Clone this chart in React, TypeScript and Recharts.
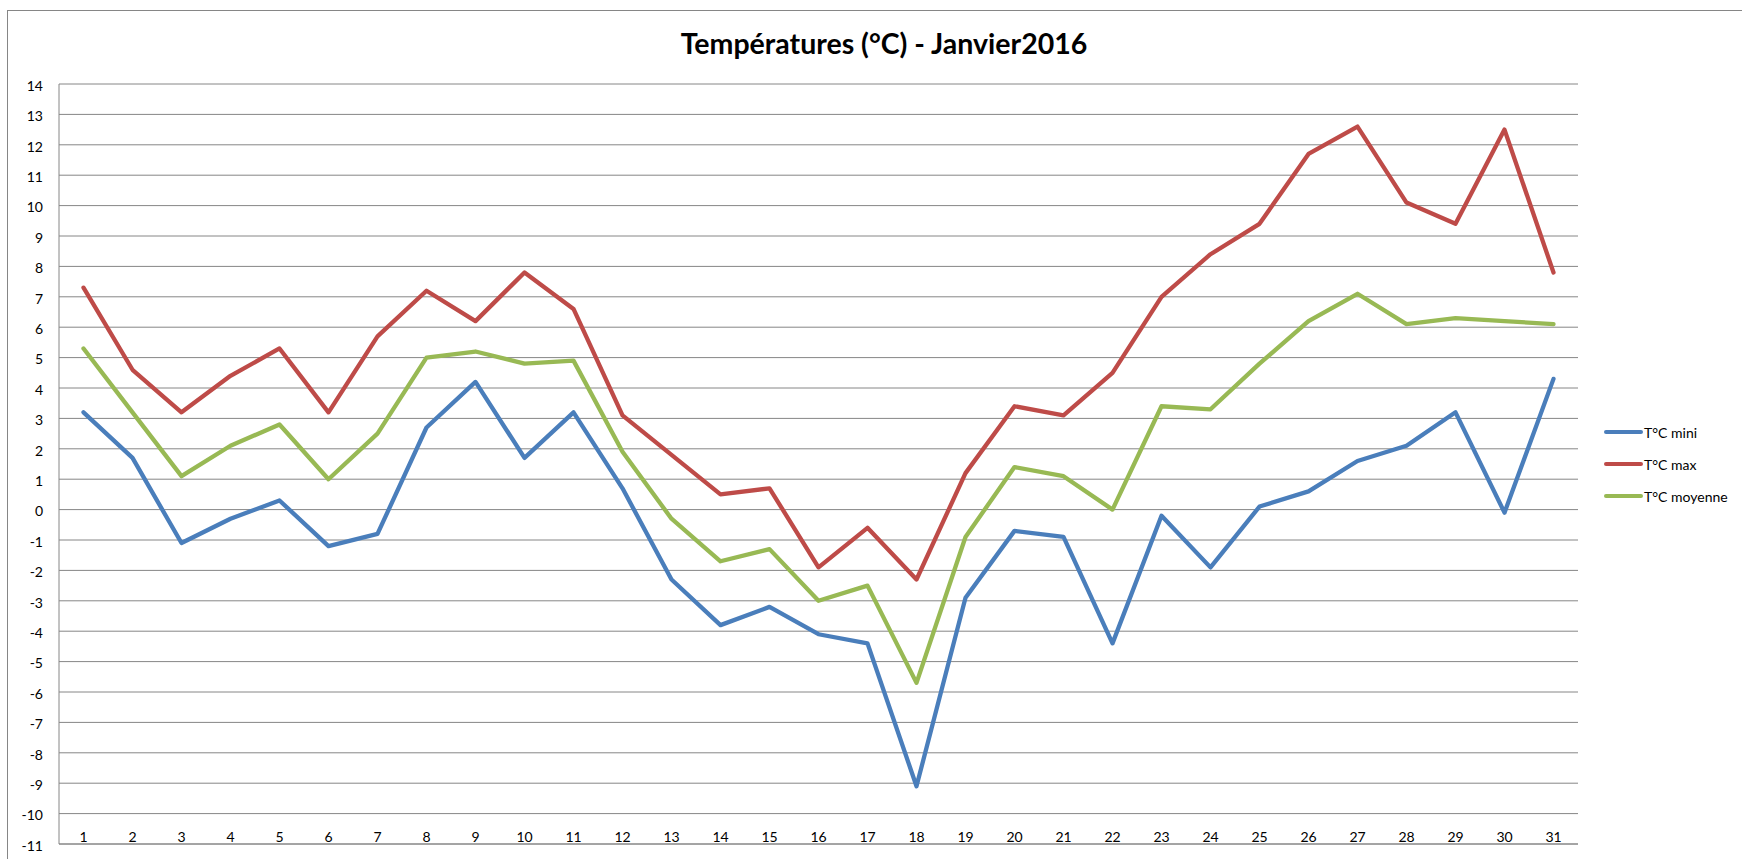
import React from 'react';
import { LineChart, Line, XAxis, YAxis, CartesianGrid, Legend } from 'recharts';

const days = [
  1, 2, 3, 4, 5, 6, 7, 8, 9, 10, 11, 12, 13, 14, 15, 16,
  17, 18, 19, 20, 21, 22, 23, 24, 25, 26, 27, 28, 29, 30, 31,
];

const tMini = [
  3.2, 1.7, -1.1, -0.3, 0.3, -1.2, -0.8, 2.7, 4.2, 1.7, 3.2, 0.7, -2.3, -3.8, -3.2, -4.1,
  -4.4, -9.1, -2.9, -0.7, -0.9, -4.4, -0.2, -1.9, 0.1, 0.6, 1.6, 2.1, 3.2, -0.1, 4.3,
];

const tMax = [
  7.3, 4.6, 3.2, 4.4, 5.3, 3.2, 5.7, 7.2, 6.2, 7.8, 6.6, 3.1, 1.8, 0.5, 0.7, -1.9,
  -0.6, -2.3, 1.2, 3.4, 3.1, 4.5, 7.0, 8.4, 9.4, 11.7, 12.6, 10.1, 9.4, 12.5, 7.8,
];

const tMoyenne = [
  5.3, 3.2, 1.1, 2.1, 2.8, 1.0, 2.5, 5.0, 5.2, 4.8, 4.9, 1.9, -0.3, -1.7, -1.3, -3.0,
  -2.5, -5.7, -0.9, 1.4, 1.1, 0.0, 3.4, 3.3, 4.8, 6.2, 7.1, 6.1, 6.3, 6.2, 6.1,
];

const yTicks = [14, 13, 12, 11, 10, 9, 8, 7, 6, 5, 4, 3, 2, 1, 0, -1, -2, -3, -4, -5, -6, -7, -8, -9, -10, -11];

const series = [
  { key: 'mini', name: 'T°C mini', color: '#4A7EBB' },
  { key: 'max', name: 'T°C max', color: '#BE4B48' },
  { key: 'moyenne', name: 'T°C moyenne', color: '#98B954' },
];

const data = days.map((d, i) => ({
  day: String(d),
  mini: tMini[i],
  max: tMax[i],
  moyenne: tMoyenne[i],
}));

const font = 'Lato, "Noto Sans", sans-serif';
const gridColor = '#868686';

const XTick = (props: any) => {
  const { x, y, payload } = props;
  return (
    <text x={x} y={y - 2} textAnchor="middle" fontSize={14} fontFamily={font} fill="#000">
      {payload.value}
    </text>
  );
};

const YTick = (props: any) => {
  const { x, y, payload } = props;
  return (
    <text x={x} y={y + 6.7} textAnchor="end" fontSize={14} fontFamily={font} fill="#000">
      {payload.value}
    </text>
  );
};

// keep the legend in series order (recharts sorts it by name otherwise)
const LegendBox = (props: any) => {
  const items = props.payload || [];
  const ordered = series
    .map((s) => items.find((it: any) => it.dataKey === s.key || it.value === s.name))
    .filter(Boolean);
  return (
    <div style={{ fontFamily: font, fontSize: 14, color: '#000' }}>
      {ordered.map((it: any) => (
        <div key={it.value} style={{ height: 32, display: 'flex', alignItems: 'center' }}>
          <svg width={40} height={6} style={{ display: 'block' }}>
            <line x1={2} y1={3} x2={37} y2={3} stroke={it.color} strokeWidth={4} strokeLinecap="round" />
          </svg>
          <span style={{ whiteSpace: 'nowrap' }}>{it.value}</span>
        </div>
      ))}
    </div>
  );
};

export default function App() {
  return (
    <div style={{ position: 'relative', width: 1742, height: 859, overflow: 'hidden', background: '#fff' }}>
      <style>{'body{margin:0;overflow:hidden}'}</style>
      <div
        style={{
          position: 'absolute',
          left: 7,
          top: 10,
          width: 1800,
          height: 900,
          borderLeft: `1px solid ${gridColor}`,
          borderTop: `1px solid ${gridColor}`,
        }}
      />
      <div
        style={{
          position: 'absolute',
          left: 384,
          top: 28,
          width: 1000,
          textAlign: 'center',
          fontFamily: font,
          fontWeight: 700,
          fontSize: 28.5,
          lineHeight: '30px',
          color: '#000',
        }}
      >
        Températures (°C) - Janvier2016
      </div>
      <LineChart
        width={1742}
        height={859}
        data={data}
        margin={{ top: 84, right: 164, bottom: 0, left: 8 }}
        style={{ position: 'absolute', left: 0, top: 0 }}
      >
        <CartesianGrid vertical={false} stroke={gridColor} strokeWidth={1} />
        <XAxis
          dataKey="day"
          height={15}
          padding={{ left: 24.5, right: 24.5 }}
          tickLine={false}
          tickSize={0}
          tickMargin={0}
          axisLine={{ stroke: gridColor }}
          tick={<XTick />}
          interval={0}
        />
        <YAxis
          width={51}
          domain={[-11, 14]}
          ticks={yTicks}
          interval={0}
          tickLine={false}
          tickSize={0}
          tickMargin={16}
          axisLine={{ stroke: gridColor }}
          tick={<YTick />}
        />
        <Legend
          layout="vertical"
          align="center"
          verticalAlign="middle"
          content={<LegendBox />}
          wrapperStyle={{ position: 'absolute', left: 1604, top: 416, width: 'auto', height: 'auto' }}
        />
        {series.map((s) => (
          <Line
            key={s.key}
            type="linear"
            dataKey={s.key}
            name={s.name}
            stroke={s.color}
            strokeWidth={4.3}
            strokeLinejoin="round"
            strokeLinecap="round"
            dot={false}
            activeDot={false}
            isAnimationActive={false}
          />
        ))}
      </LineChart>
    </div>
  );
}
